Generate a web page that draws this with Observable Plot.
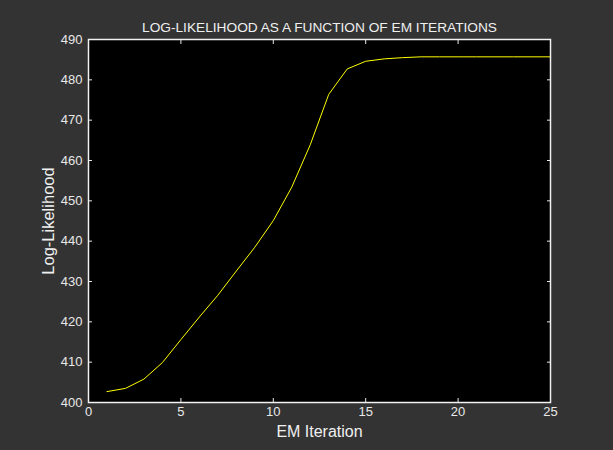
<!DOCTYPE html>
<html>
<head>
<meta charset="utf-8">
<script src="https://cdn.jsdelivr.net/npm/d3@7"></script>
<script src="https://cdn.jsdelivr.net/npm/@observablehq/plot@0.6"></script>
<style>
  html, body { margin: 0; padding: 0; background: #333333; }
  #chart svg { display: block; }
</style>
</head>
<body>
<div id="chart"></div>
<script>
const iterations = [1,2,3,4,5,6,7,8,9,10,11,12,13,14,15,16,17,18,19,20,21,22,23,24,25];
const logLik = [402.7,403.5,405.8,409.9,415.6,421.2,426.6,432.6,438.5,445.1,453.4,463.9,476.4,482.7,484.6,485.2,485.5,485.7,485.7,485.7,485.7,485.7,485.7,485.7,485.7];
const xTicks = [0,5,10,15,20,25];
const yTicks = [400,410,420,430,440,450,460,470,480,490];
const titleText = "LOG-LIKELIHOOD AS A FUNCTION OF EM ITERATIONS";

const data = iterations.map((x, i) => ({x, y: logLik[i]}));
const fg = "#e8e8e8";

const chart = Plot.plot({
  width: 613,
  height: 450,
  marginLeft: 88,
  marginRight: 63,
  marginTop: 39,
  marginBottom: 48,
  style: {background: "#333333", color: fg, fontFamily: "Liberation Sans, Arial, sans-serif", fontSize: "13px"},
  x: {domain: [0, 25], ticks: xTicks},
  y: {domain: [400, 490], ticks: yTicks},
  marks: [
    Plot.frame({fill: "black"}),
    Plot.axisX({anchor: "bottom", ticks: xTicks, tickSize: -4, tickPadding: 8, stroke: fg, fill: fg, fontSize: 13, label: null}),
    Plot.axisX({anchor: "top", ticks: xTicks, tickSize: -4, text: null, stroke: fg, label: null}),
    Plot.axisY({anchor: "left", ticks: yTicks, tickSize: -4, tickPadding: 10, stroke: fg, fill: fg, fontSize: 13, label: null}),
    Plot.axisY({anchor: "right", ticks: yTicks, tickSize: -4, text: null, stroke: fg, label: null}),
    Plot.line(data, {x: "x", y: "y", stroke: "#ffff00", strokeWidth: 1}),
    Plot.frame({stroke: "#f2f2f2", strokeWidth: 1.5}),
    Plot.text([titleText], {frameAnchor: "top", dy: -17, textAnchor: "middle", fill: "#f0f0f0", fontSize: 13.7, text: d => d}),
    Plot.text(["EM Iteration"], {frameAnchor: "bottom", dy: 34, textAnchor: "middle", fill: "#f0f0f0", fontSize: 16, text: d => d}),
    Plot.text(["Log-Likelihood"], {frameAnchor: "left", dx: -40, textAnchor: "middle", rotate: -90, fill: "#f0f0f0", fontSize: 16.5, text: d => d})
  ]
});
document.getElementById("chart").appendChild(chart);
</script>
</body>
</html>
